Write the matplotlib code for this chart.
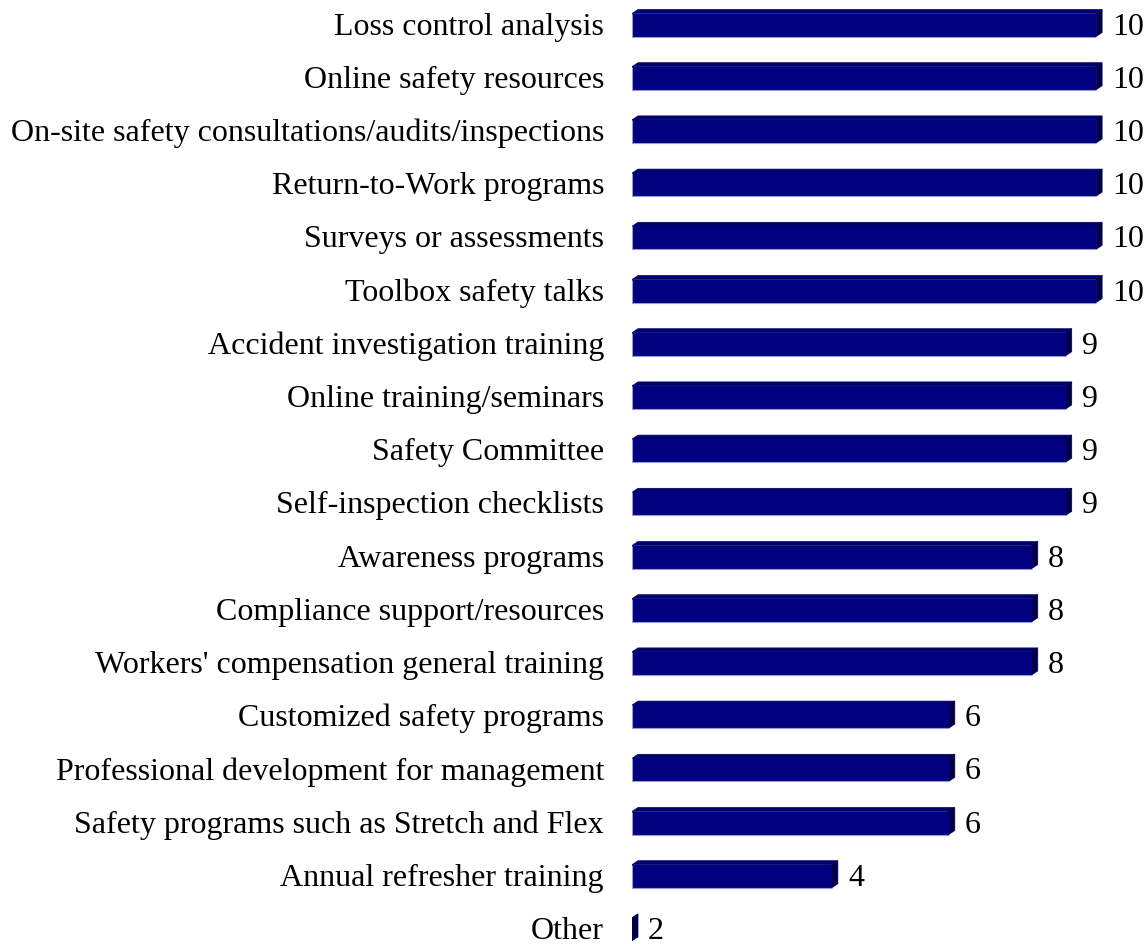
import matplotlib.pyplot as plt
from matplotlib.patches import Polygon
import numpy as np

plt.rcParams['font.family'] = ['Liberation Serif', 'DejaVu Serif']

categories = ['Loss control analysis', 'Online safety resources',
              'On-site safety consultations/audits/inspections',
              'Return-to-Work programs', 'Surveys or assessments',
              'Toolbox safety talks', 'Accident investigation training',
              'Online training/seminars', 'Safety Committee',
              'Self-inspection checklists', 'Awareness programs',
              'Compliance support/resources',
              "Workers' compensation general training",
              'Customized safety programs',
              'Professional development for management',
              'Safety programs such as Stretch and Flex',
              'Annual refresher training', 'Other']
values = [10, 10, 10, 10, 10, 10, 9, 9, 9, 9, 8, 8, 8, 6, 6, 6, 4, 2]

W, H = 1146, 945
fig = plt.figure(figsize=(W / 100, H / 100), dpi=100)
# axes from x=632 px to right edge, full height
ax = fig.add_axes([632 / W, 0, 1 - 632 / W, 1])
ax.set_xscale('log')
px_dec = 664.0                       # pixels per decade
xmin = 2.0
xmax = 10 ** (np.log10(xmin) + (W - 632) / px_dec)
ax.set_xlim(xmin, xmax)
row_px = 53.2
top0 = 26.0
ax.set_ylim((H - top0) / row_px, -top0 / row_px)
ax.axis('off')

bar_h = 23 / row_px
dx = 10 ** (6 / px_dec)    # depth offset, multiplicative in log space
dy = 4 / row_px

front_c = '#000080'
top_c = '#00006e'
side_c = '#00004a'
edge_c = '#9a9ad0'

for i, v in enumerate(values):
    y0 = i + bar_h / 2        # bottom (larger y = lower)
    y1 = i - bar_h / 2        # top
    # top face
    ax.add_patch(Polygon([(xmin, y1), (v, y1), (v * dx, y1 - dy), (xmin * dx, y1 - dy)],
                         closed=True, facecolor=top_c, edgecolor=top_c, lw=0.5))
    # side face
    ax.add_patch(Polygon([(v, y0), (v, y1), (v * dx, y1 - dy), (v * dx, y0 - dy)],
                         closed=True, facecolor=side_c, edgecolor=side_c, lw=0.5))
    # front face
    if v > xmin:
        ax.barh(i, v - xmin, left=xmin, height=bar_h, color=front_c, linewidth=0)
        ax.plot([xmin, xmin, v], [y1, y0, y0], color=edge_c, lw=0.8,
                solid_capstyle='butt')
    ax.text(v * dx * 10 ** (10 / px_dec), i + 0.02, str(v), fontsize=23,
            va='center', ha='left', color='black')
    ax.text(10 ** (np.log10(xmin) - 28 / px_dec), i + 0.02, categories[i], fontsize=23,
            va='center', ha='right', color='black', clip_on=False)

fig.savefig('out.png', dpi=100)
